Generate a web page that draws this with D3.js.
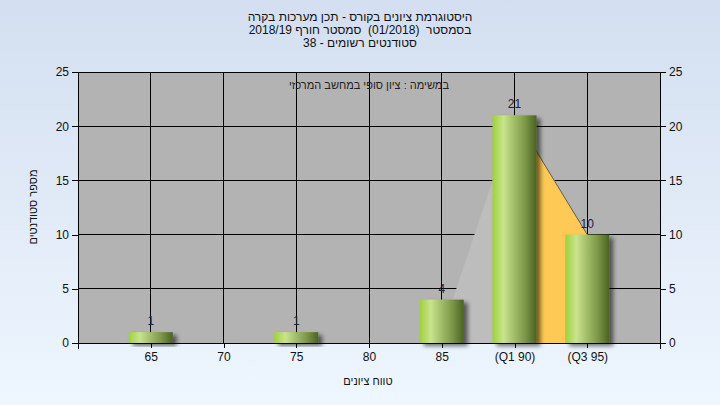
<!DOCTYPE html>
<html><head><meta charset="utf-8">
<script src="https://cdn.jsdelivr.net/npm/d3@7"></script>
<style>body{margin:0;}svg{display:block;}text{white-space:pre;}</style>
</head><body>
<svg id="chart" width="720" height="405"></svg>
<script>
const titleLines = ["היסטוגרמת ציונים בקורס - תכן מערכות בקרה", "בסמסטר  (01/2018)  סמסטר חורף 2018/19", "סטודנטים רשומים - 38"];
const subTitle = "במשימה : ציון סופי במחשב המרכזי";
const yTitle = "מספר סטודנטים";
const xTitle = "טווח ציונים";
const categories = [65, 70, 75, 80, 85, 90, 95];
const tickLabels = ["65", "70", "75", "80", "85", "(Q1 90)", "(Q3 95)"];
const counts = [1, 0, 1, 0, 4, 21, 10];
const yTicks = [0, 5, 10, 15, 20, 25];
const quartileX = [90, 95];
const quartileY = [21, 10];
const greyX = [85, 90];
const greyY = [1, 21];

const svg = d3.select("#chart");
const W = 720, H = 405;
const m = {l: 78, r: 660, t: 72, b: 343};
const font = "'Liberation Sans', Arial, sans-serif";

const defs = svg.append("defs");
const bg = defs.append("linearGradient").attr("id", "bg").attr("x1", 0).attr("y1", 0).attr("x2", 0).attr("y2", 1);
bg.append("stop").attr("offset", "0%").attr("stop-color", "#d3dff0");
bg.append("stop").attr("offset", "100%").attr("stop-color", "#eef6fe");
const bar = defs.append("linearGradient").attr("id", "bar").attr("x1", 0).attr("y1", 0).attr("x2", 1).attr("y2", 0);
[["0%", "#9fd03a"], ["25%", "#c8e48c"], ["45%", "#a9c46e"], ["75%", "#7a9546"], ["100%", "#4a6320"]].forEach(s =>
  bar.append("stop").attr("offset", s[0]).attr("stop-color", s[1]));
const sh = defs.append("filter").attr("id", "shadow").attr("x", "-20%").attr("y", "-20%").attr("width", "150%").attr("height", "150%");
sh.append("feDropShadow").attr("dx", 4).attr("dy", 3).attr("stdDeviation", 2).attr("flood-color", "#000").attr("flood-opacity", 0.55);

svg.append("rect").attr("width", W).attr("height", H).attr("fill", "url(#bg)");

const x = d3.scaleLinear().domain([60, 100]).range([m.l, m.r]);
const y = d3.scaleLinear().domain([0, 25]).range([m.b, m.t]);

svg.append("rect").attr("x", m.l).attr("y", m.t).attr("width", m.r - m.l).attr("height", m.b - m.t).attr("fill", "#b3b3b3");

// grid
const grid = svg.append("g").attr("stroke", "#000").attr("stroke-width", 1).attr("shape-rendering", "crispEdges");
yTicks.forEach(v => grid.append("line").attr("x1", m.l).attr("x2", m.r).attr("y1", y(v)).attr("y2", y(v)));
categories.forEach(v => grid.append("line").attr("x1", x(v)).attr("x2", x(v)).attr("y1", m.t).attr("y2", m.b));

// areas
const area = d3.area().x(d => x(d[0])).y0(y(0)).y1(d => y(d[1]));
svg.append("path").datum(greyX.map((v, i) => [v, greyY[i]])).attr("d", area).attr("fill", "#bdbdbd");
svg.append("path").datum(quartileX.map((v, i) => [v, quartileY[i]])).attr("d", area).attr("fill", "#fec955");
svg.append("path").datum(quartileX.map((v, i) => [v, quartileY[i]]))
  .attr("d", d3.line().x(d => x(d[0])).y(d => y(d[1]))).attr("fill", "none").attr("stroke", "#6b5a3a").attr("stroke-width", 1);

// axes
const axL = svg.append("g").attr("transform", `translate(${m.l},0)`)
  .call(d3.axisLeft(y).tickValues(yTicks).tickSize(6).tickPadding(3));
const axR = svg.append("g").attr("transform", `translate(${m.r},0)`)
  .call(d3.axisRight(y).tickValues(yTicks).tickSize(6).tickPadding(3));
const axB = svg.append("g").attr("transform", `translate(0,${m.b})`)
  .call(d3.axisBottom(x).tickValues(categories).tickFormat((d, i) => tickLabels[i]).tickSize(5).tickPadding(4));
[axL, axR, axB].forEach(a => {
  a.select(".domain").attr("stroke", "#000").attr("shape-rendering", "crispEdges");
  a.selectAll(".tick line").attr("stroke", "#000").attr("shape-rendering", "crispEdges");
  a.selectAll("text").attr("font-family", font).attr("font-size", 12).attr("fill", "#111");
});
axL.select(".domain").attr("d", `M-6,${m.t}H0V${m.b + 6}`);
axR.select(".domain").attr("d", `M6,${m.t}H0V${m.b + 6}`);
axB.select(".domain").attr("d", `M${m.l},0H${m.r}`);

// bars
const bw = 44;
const data = categories.map((c, i) => ({c, v: counts[i]})).filter(d => d.v > 0);
svg.append("g").selectAll("rect").data(data).join("rect")
  .attr("x", d => x(d.c) - bw / 2).attr("y", d => y(d.v))
  .attr("width", bw).attr("height", d => y(0) - y(d.v))
  .attr("fill", "url(#bar)").attr("filter", "url(#shadow)");
svg.append("g").selectAll("text").data(data).join("text")
  .attr("x", d => x(d.c)).attr("y", d => y(d.v) - 7)
  .attr("text-anchor", "middle").attr("font-family", font).attr("font-size", 12).attr("fill", "#1c2438")
  .text(d => d.v);

// titles
svg.append("g").selectAll("text").data(titleLines).join("text")
  .attr("x", 360).attr("y", (d, i) => 21 + i * 13)
  .attr("text-anchor", "middle").attr("direction", "rtl").attr("font-family", font).attr("font-size", 12).attr("fill", "#111")
  .text(d => d);
svg.append("text").attr("x", 369).attr("y", 89).attr("text-anchor", "middle").attr("direction", "rtl")
  .attr("font-family", font).attr("font-size", 11).attr("fill", "#222").text(subTitle);
svg.append("text").attr("transform", "translate(37,207) rotate(-90)").attr("text-anchor", "middle").attr("direction", "rtl")
  .attr("font-family", font).attr("font-size", 11).attr("fill", "#111").text(yTitle);
svg.append("text").attr("x", 368).attr("y", 385).attr("text-anchor", "middle").attr("direction", "rtl")
  .attr("font-family", font).attr("font-size", 11).attr("fill", "#111").text(xTitle);
</script>
</body></html>
